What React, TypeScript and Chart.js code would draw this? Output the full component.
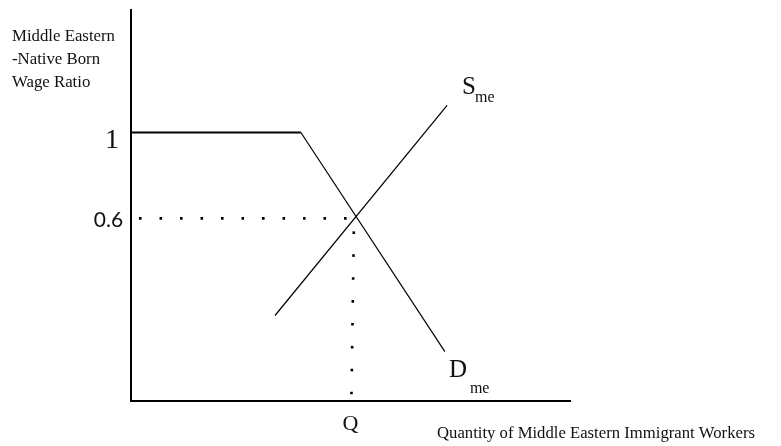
import React, { useEffect, useRef } from 'react';
import { Chart, registerables } from 'chart.js';

Chart.register(...registerables);

// ---- data ----
const demandQty = [0, 3.87, 7.15];
const demandWage = [1, 1, -0.02];
const supplyQty = [3.28, 7.2];
const supplyWage = [0.148, 1.126];
const eqWage = 0.6;
const eqQtyTop = 5.08;
const eqQtyBottom = 5.02;
const eqLineEnd = 4.95;
const yTickValues = [1, 0.6];
const yTickLabels = ['1', '0.6'];
const xTickValues = [5.02];
const xTickLabels = ['Q'];
const yTitleLines = ['Middle Eastern', '-Native Born', 'Wage Ratio'];
const xTitle = 'Quantity of Middle Eastern Immigrant Workers';
const curveLetters = ['S', 'D'];
const curveSubscript = 'me';

const X_MIN = 0;
const X_MAX = 10;
const Y_MIN = -0.25;
const Y_MAX = 1.57;

const SERIF = '"Liberation Serif", "Times New Roman", serif';
const TEXT = '#111';

const labelsPlugin = {
  id: 'econLabels',
  afterDraw(chart: any) {
    const { ctx, chartArea, scales } = chart;
    const xs = scales.x;
    const ys = scales.y;
    ctx.save();
    ctx.fillStyle = TEXT;
    ctx.textBaseline = 'alphabetic';

    // y-axis title (multi-line, horizontal, top-left)
    ctx.font = `16.8px ${SERIF}`;
    ctx.textAlign = 'left';
    const yTitleBase = [41, 64, 87];
    yTitleLines.forEach((line, i) => {
      ctx.fillText(line, chartArea.left - 119, chartArea.top + yTitleBase[i] - 10);
    });

    // y tick labels
    yTickValues.forEach((v, i) => {
      const py = ys.getPixelForValue(v);
      ctx.textAlign = 'center';
      if (yTickLabels[i] === '1') {
        ctx.font = `28px ${SERIF}`;
        ctx.fillText(yTickLabels[i], chartArea.left - 19, py + 16);
      } else {
        ctx.font = `21px Lato, "Open Sans", sans-serif`;
        ctx.fillText(yTickLabels[i], chartArea.left - 22.5, py + 8.5);
      }
    });

    // x tick labels
    xTickValues.forEach((v, i) => {
      const px = xs.getPixelForValue(v);
      ctx.textAlign = 'center';
      ctx.font = `22px ${SERIF}`;
      ctx.fillText(xTickLabels[i], px - 1, chartArea.bottom + 29);
    });

    // x-axis title
    ctx.textAlign = 'left';
    ctx.font = `16.7px ${SERIF}`;
    ctx.fillText(xTitle, 437, chartArea.bottom + 37);

    // curve labels
    const sEndX = xs.getPixelForValue(supplyQty[supplyQty.length - 1]);
    const sEndY = ys.getPixelForValue(supplyWage[supplyWage.length - 1]);
    const dEndX = xs.getPixelForValue(demandQty[demandQty.length - 1]);
    const dEndY = ys.getPixelForValue(demandWage[demandWage.length - 1]);

    ctx.textAlign = 'left';
    ctx.font = `25px ${SERIF}`;
    ctx.fillText(curveLetters[0], sEndX + 15, sEndY - 11);
    ctx.fillText(curveLetters[1], dEndX + 4, dEndY + 25);
    ctx.font = `16px ${SERIF}`;
    ctx.fillText(curveSubscript, sEndX + 28, sEndY - 3);
    ctx.fillText(curveSubscript, dEndX + 25, dEndY + 41);

    ctx.restore();
  },
};

export default function App() {
  const canvasRef = useRef<HTMLCanvasElement | null>(null);

  useEffect(() => {
    const canvas = canvasRef.current;
    if (!canvas) return;
    const pts = (xa: number[], ya: number[]) => xa.map((x, i) => ({ x, y: ya[i] }));

    const chart = new Chart(canvas, {
      type: 'line',
      data: {
        datasets: [
          {
            label: 'D',
            data: pts(demandQty, demandWage),
            borderColor: '#000',
            borderWidth: 1.4,
            pointRadius: 0,
            tension: 0,
            fill: false,
            segment: {
              borderWidth: (c: any) => (c.p0.parsed.y === c.p1.parsed.y ? 2 : 1.2),
            },
          },
          {
            label: 'S',
            data: pts(supplyQty, supplyWage),
            borderColor: '#000',
            borderWidth: 1.2,
            pointRadius: 0,
            tension: 0,
            fill: false,
          },
          {
            label: 'eqH',
            data: [
              { x: X_MIN, y: eqWage },
              { x: eqLineEnd, y: eqWage },
            ],
            borderColor: '#000',
            borderWidth: 2.6,
            borderDash: [2.6, 17.9],
            borderDashOffset: -8,
            pointRadius: 0,
            fill: false,
          },
          {
            label: 'eqV',
            data: [
              { x: eqQtyTop, y: eqWage },
              { x: eqQtyBottom, y: Y_MIN },
            ],
            borderColor: '#000',
            borderWidth: 2.6,
            borderDash: [2.6, 20.3],
            borderDashOffset: -13,
            pointRadius: 0,
            fill: false,
          },
        ],
      },
      options: {
        animation: false,
        responsive: true,
        maintainAspectRatio: false,
        devicePixelRatio: 1,
        layout: { padding: { left: 131, top: 10, right: 211, bottom: 45 } },
        plugins: {
          legend: { display: false },
          tooltip: { enabled: false },
          title: { display: false },
        },
        scales: {
          x: {
            type: 'linear',
            min: X_MIN,
            max: X_MAX,
            grid: { display: true, drawOnChartArea: false, drawTicks: false },
            ticks: { display: false },
            border: { display: true, color: '#000', width: 2 },
          },
          y: {
            type: 'linear',
            min: Y_MIN,
            max: Y_MAX,
            grid: { display: true, drawOnChartArea: false, drawTicks: false },
            ticks: { display: false },
            border: { display: true, color: '#000', width: 2 },
          },
        },
      },
      plugins: [labelsPlugin],
    } as any);

    return () => chart.destroy();
  }, []);

  return (
    <div style={{ position: 'absolute', left: 0, top: 0, width: 781, height: 446, background: '#fff' }}>
      <canvas ref={canvasRef} />
    </div>
  );
}
